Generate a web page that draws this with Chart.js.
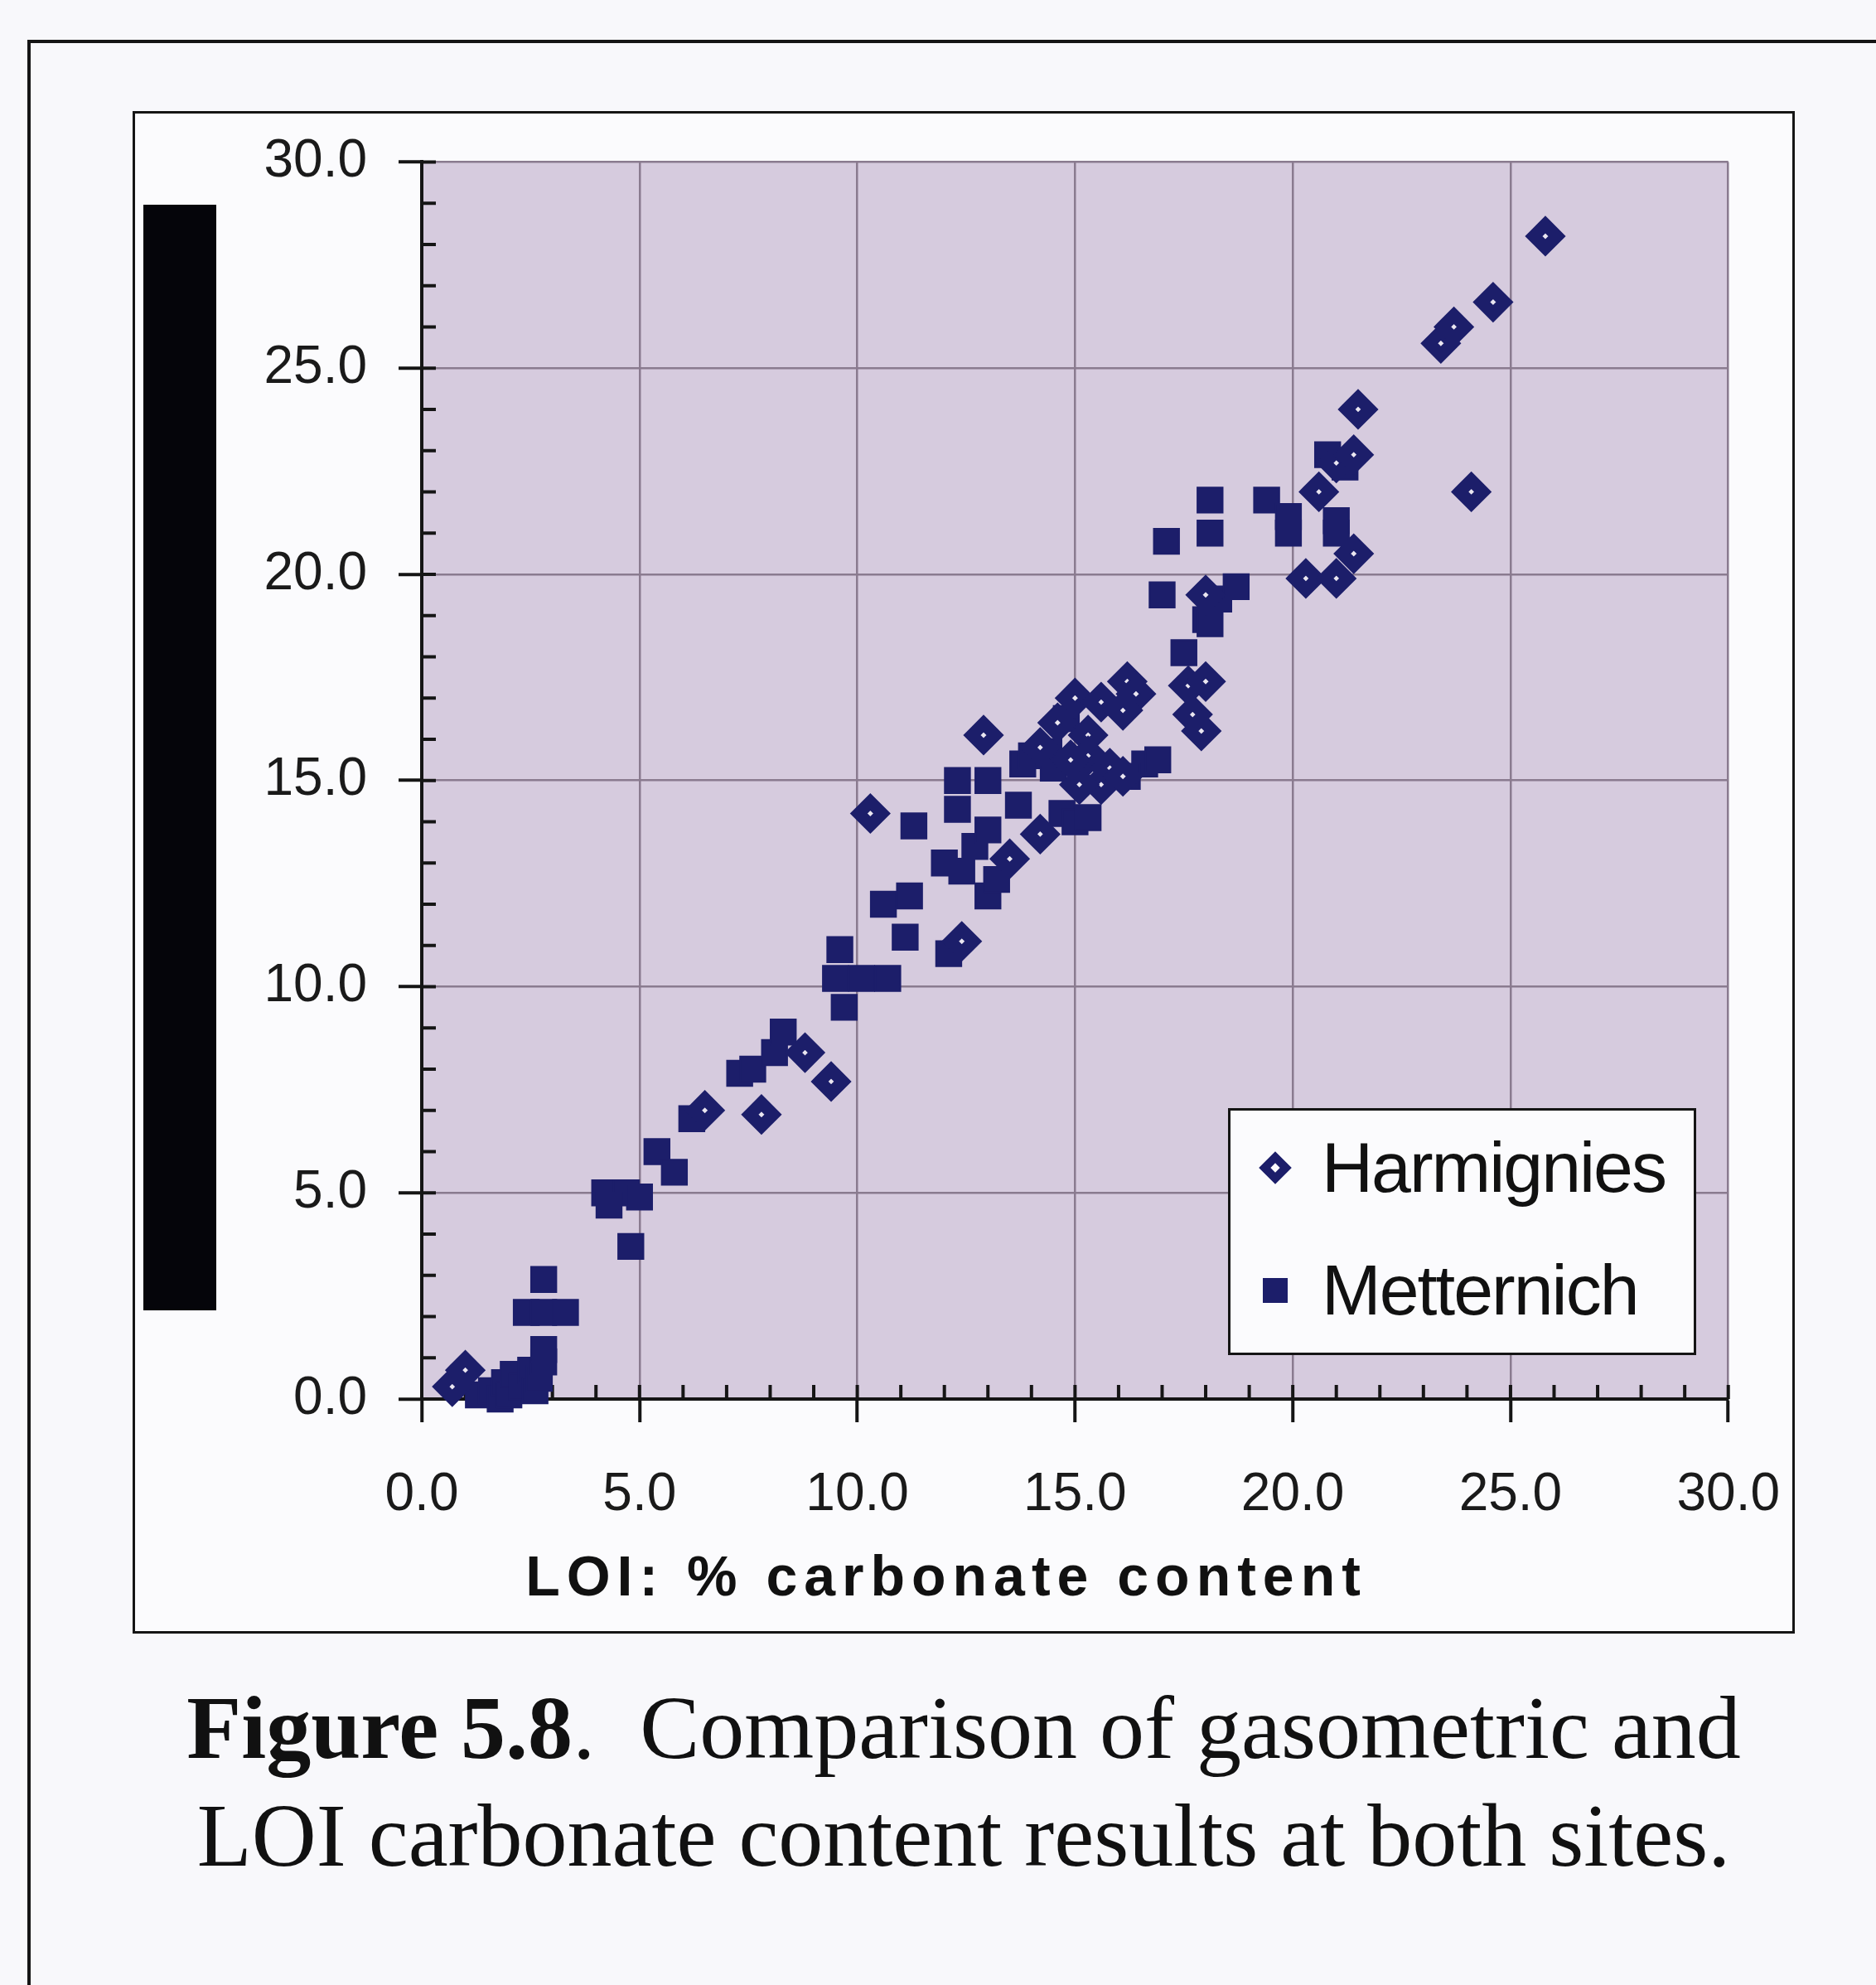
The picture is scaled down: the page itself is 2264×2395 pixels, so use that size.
<!DOCTYPE html>
<html>
<head>
<meta charset="utf-8">
<script src="https://cdn.jsdelivr.net/npm/chart.js@4.4.1/dist/chart.umd.min.js"></script>
<style>
html, body { margin: 0; padding: 0; }
body { width: 2264px; height: 2395px; background: #f8f8fb; position: relative; overflow: hidden; font-family: "Liberation Sans", Arial, sans-serif; }
#outer { position: absolute; left: 33px; top: 48px; width: 2400px; height: 2500px; border-left: 4px solid #151515; border-top: 4px solid #151515; }
#frame { position: absolute; left: 160px; top: 134px; width: 2006px; height: 1837px; border: 3px solid #151515; background: #fbfbfd; box-sizing: border-box; }
#wrap { position: absolute; left: 163px; top: 119px; width: 2035px; height: 1849px; }
#bar { position: absolute; left: 173px; top: 247px; width: 88px; height: 1334px; background: #05050a; }
#legend { position: absolute; left: 1482px; top: 1337px; width: 565px; height: 298px; box-sizing: border-box; border: 3px solid #151515; background: #fbfbfd; }
.entry { position: absolute; left: 0; height: 100px; line-height: 100px; font-size: 86px; color: #111; letter-spacing: -2px; }
.entry span.txt { position: absolute; left: 110px; white-space: nowrap; }
.mk { position: absolute; box-sizing: border-box; }
#caption { position: absolute; left: 0; width: 2326px; top: 2020px; text-align: center; font-family: "Liberation Serif", "Times New Roman", serif; font-size: 108px; line-height: 130px; color: #111; }
</style>
</head>
<body>
<div id="outer"></div>
<div id="frame"></div>
<div id="bar"></div>
<div id="wrap"><canvas id="myChart"></canvas></div>
<div id="legend"></div>
<div id="caption"><b>Figure 5.8</b>.&nbsp; Comparison of gasometric and<br>LOI carbonate content results at both sites.</div>
<script>
var seriesNames = ['Harmignies', 'Metternich'];
var xTitle = 'LOI: % carbonate content';
var tickValues = [0, 5, 10, 15, 20, 25, 30];

// Harmignies (open diamonds)
var harmX = [0.7, 1.0, 6.5, 7.8, 8.8, 9.4, 10.3, 12.4, 13.5, 14.2, 12.9, 14.2, 14.6, 15.0, 15.6, 16.2,
	16.4, 16.1, 15.3, 15.3, 15.8, 15.6, 15.1, 16.1, 14.9, 17.6, 18.0, 17.7, 17.9, 18.0, 20.6, 21.0,
	21.4, 21.5, 21.4, 20.3, 21.0, 23.4, 23.7, 24.6, 25.8, 24.1];
var harmY = [0.3, 0.7, 7.0, 6.9, 8.4, 7.7, 14.2, 11.1, 13.1, 13.7, 16.1, 15.8, 16.4, 17.0, 16.9, 17.4,
	17.1, 16.7, 16.1, 15.6, 15.3, 14.9, 14.9, 15.1, 15.5, 17.3, 17.4, 16.6, 16.2, 19.5, 22.0, 22.7,
	22.9, 24.0, 20.5, 19.9, 19.9, 25.6, 26.0, 26.6, 28.2, 22.0];

// Metternich (filled squares)
var mettX = [1.3, 1.6, 1.8, 1.9, 2.0, 2.1, 2.3, 2.5, 2.6, 2.7, 2.8, 2.8,
	2.4, 2.8, 3.3, 2.8,
	4.2, 4.7, 5.0, 4.3, 4.8, 5.4, 5.8, 6.2,
	7.3, 7.6, 8.1, 8.3,
	9.5, 9.6, 9.7, 10.1, 10.7,
	10.6, 11.2, 11.1, 11.3, 12.1,
	12.0, 12.4, 13.0, 13.2, 12.7, 12.3, 13.0, 12.3, 13.0,
	13.7, 14.7, 15.0, 15.3, 13.8, 14.0, 14.4, 14.5, 14.8,
	16.6, 16.9, 16.2,
	17.0, 17.1, 17.5, 18.0, 18.1, 18.3, 18.7, 18.1, 18.1,
	19.4, 19.9, 19.9, 21.0, 21.0, 20.8, 21.2];
var mettY = [0.1, 0.2, 0.0, 0.4, 0.1, 0.6, 0.3, 0.7, 0.2, 0.5, 0.9, 1.2,
	2.1, 2.1, 2.1, 2.9,
	5.0, 5.0, 4.9, 4.7, 3.7, 6.0, 5.5, 6.8,
	7.9, 8.0, 8.4, 8.9,
	10.2, 10.9, 9.5, 10.2, 10.2,
	12.0, 12.2, 11.2, 13.9, 10.8,
	13.0, 12.8, 12.2, 12.6, 13.4, 14.3, 13.8, 15.0, 15.0,
	14.4, 14.2, 14.0, 14.1, 15.4, 15.6, 15.7, 15.3, 16.5,
	15.4, 15.5, 15.1,
	19.5, 20.8, 18.1, 18.9, 18.8, 19.4, 19.7, 21.8, 21.0,
	21.8, 21.4, 21.0, 21.3, 21.0, 22.9, 22.6];

var NAVY = '#1c1e6a';
var FONT = '"Liberation Sans", Arial, sans-serif';

function toPoints(xs, ys) {
	return xs.map(function (x, i) { return {x: x, y: ys[i]}; });
}

var plotBg = {
	id: 'plotBg',
	beforeDraw: function (chart) {
		var a = chart.chartArea, ctx = chart.ctx;
		ctx.save();
		ctx.fillStyle = '#d6cbde';
		ctx.fillRect(a.left, a.top, a.right - a.left, a.bottom - a.top);
		ctx.restore();
	}
};

// small inward ticks every 1.0, as in the original
var minorTicks = {
	id: 'minorTicks',
	beforeDatasetsDraw: function (chart) {
		var ctx = chart.ctx, xs = chart.scales.x, ys = chart.scales.y, a = chart.chartArea;
		ctx.save();
		ctx.strokeStyle = '#151515';
		ctx.lineWidth = 4;
		for (var v = 1; v <= 30; v++) {
			var px = xs.getPixelForValue(v);
			var py = ys.getPixelForValue(v);
			ctx.beginPath();
			ctx.moveTo(px, a.bottom);
			ctx.lineTo(px, a.bottom - 17);
			ctx.moveTo(a.left, py);
			ctx.lineTo(a.left + 17, py);
			ctx.stroke();
		}
		ctx.restore();
	}
};

var axisTitle = {
	id: 'axisTitle',
	afterDraw: function (chart) {
		var ctx = chart.ctx;
		ctx.save();
		ctx.font = 'bold 68px ' + FONT;
		ctx.fillStyle = '#111';
		ctx.textAlign = 'center';
		ctx.textBaseline = 'alphabetic';
		ctx.letterSpacing = '8px';
		ctx.fillText(xTitle, 979, chart.chartArea.bottom + 237);
		ctx.restore();
	}
};

var chart = new Chart('myChart', {
	type: 'scatter',
	data: {
		datasets: [{
			label: seriesNames[0],
			data: toPoints(harmX, harmY),
			pointStyle: 'rectRot',
			pointRadius: 14,
			pointBorderWidth: 15,
			pointBorderColor: NAVY,
			pointBackgroundColor: '#eae6f0',
			borderColor: NAVY,
			backgroundColor: '#eae6f0',
			clip: false
		}, {
			label: seriesNames[1],
			data: toPoints(mettX, mettY),
			pointStyle: 'rect',
			pointRadius: 21.5,
			pointBorderWidth: 2,
			pointBorderColor: NAVY,
			pointBackgroundColor: NAVY,
			borderColor: NAVY,
			backgroundColor: NAVY,
			clip: false
		}]
	},
	options: {
		responsive: true,
		maintainAspectRatio: false,
		animation: false,
		devicePixelRatio: 1,
		layout: {
			padding: 0
		},
		plugins: {
			legend: { display: false },
			tooltip: { enabled: false }
		},
		scales: {
			x: {
				type: 'linear',
				min: tickValues[0],
				max: tickValues[tickValues.length - 1],
				afterBuildTicks: function (s) { s.ticks = tickValues.map(function (v) { return {value: v}; }); },
				afterFit: function (s) { s.height = 280; },
				ticks: {
					callback: function (v) { return Number(v).toFixed(1); },
					font: { size: 64, family: FONT },
					color: '#1a1a1a',
					padding: 50,
					maxRotation: 0,
					autoSkip: false
				},
				grid: { color: '#8a7b8f', lineWidth: 2.5, tickColor: '#151515', tickLength: 28, tickWidth: 4 },
				border: { color: '#151515', width: 4 }
			},
			y: {
				type: 'linear',
				min: tickValues[0],
				max: tickValues[tickValues.length - 1],
				afterBuildTicks: function (s) { s.ticks = tickValues.map(function (v) { return {value: v}; }); },
				afterFit: function (s) { s.width = 346; },
				ticks: {
					callback: function (v) { return Number(v).toFixed(1); },
					font: { size: 64, family: FONT },
					color: '#1a1a1a',
					padding: 38,
					autoSkip: false
				},
				grid: { color: '#8a7b8f', lineWidth: 2.5, tickColor: '#151515', tickLength: 28, tickWidth: 4 },
				border: { color: '#151515', width: 4 }
			}
		}
	},
	plugins: [plotBg, minorTicks, axisTitle]
});

// legend box drawn over the plot, as in the original
var legend = document.getElementById('legend');
chart.data.datasets.forEach(function (ds, i) {
	var row = document.createElement('div');
	row.className = 'entry';
	row.style.top = (18 + i * 148) + 'px';
	row.style.width = '100%';
	var mk = document.createElement('div');
	mk.className = 'mk';
	if (ds.pointStyle === 'rectRot') {
		mk.style.cssText = 'left:40px;top:37px;width:28px;height:28px;border:10px solid ' + NAVY + ';background:#fbfbfd;transform:rotate(45deg);';
	} else {
		mk.style.cssText = 'left:39px;top:36px;width:30px;height:30px;background:' + NAVY + ';';
	}
	var txt = document.createElement('span');
	txt.className = 'txt';
	txt.textContent = ds.label;
	row.appendChild(mk);
	row.appendChild(txt);
	legend.appendChild(row);
});
</script>
</body>
</html>
